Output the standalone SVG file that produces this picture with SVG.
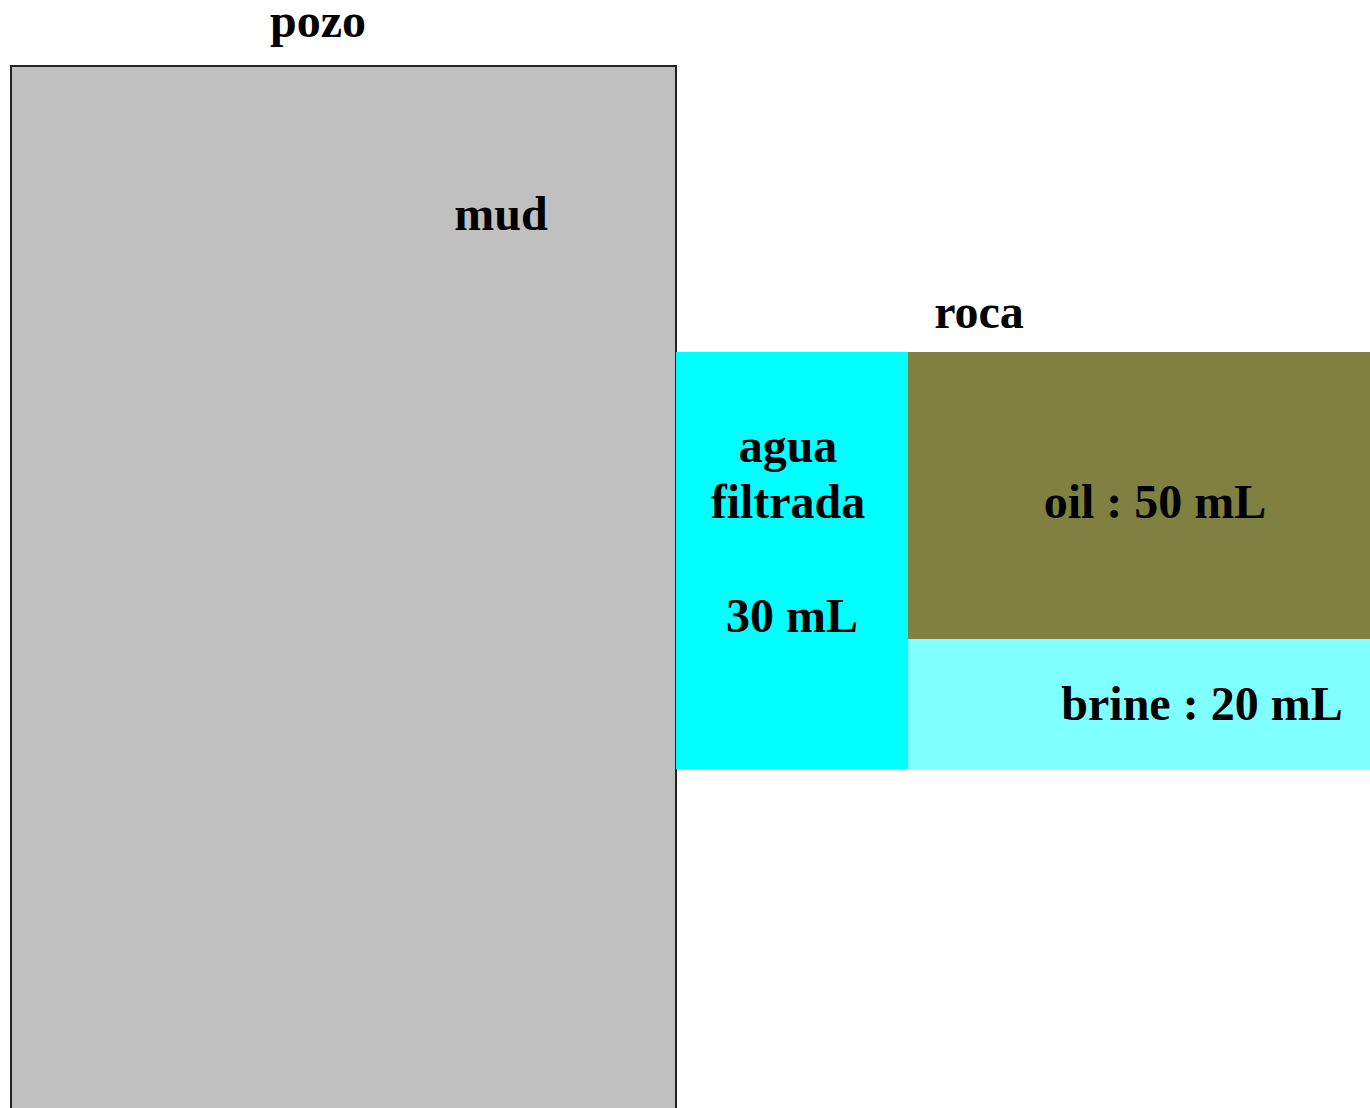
<svg xmlns="http://www.w3.org/2000/svg" width="1370" height="1108" viewBox="0 0 1370 1108">
<style>
text{font-family:"Liberation Serif","Times New Roman",serif;font-weight:bold;font-size:48px;fill:#000;text-anchor:middle}
</style>
<rect width="1370" height="1108" fill="#fff"/>
<g id="pozo">
<rect x="11" y="66" width="665" height="1060" fill="#c0c0c0" stroke="#222" stroke-width="2"/>
<text x="318" y="37">pozo</text>
<text x="501" y="230">mud</text>
</g>
<g id="agua">
<rect x="676" y="352" width="232" height="417" fill="#00ffff"/>
<text x="788" y="462">agua</text>
<text x="788" y="518">filtrada</text>
<text x="792" y="632">30 mL</text>
</g>
<g id="oil">
<rect x="908" y="352" width="462" height="287" fill="#808040"/>
<text x="1155" y="518">oil : 50 mL</text>
</g>
<g id="brine">
<rect x="908" y="639" width="462" height="130" fill="#80ffff"/>
<text x="1202" y="720">brine : 20 mL</text>
</g>
<g id="roca">
<text x="979" y="328">roca</text>
</g>
<g id="connectors"/>
</svg>
